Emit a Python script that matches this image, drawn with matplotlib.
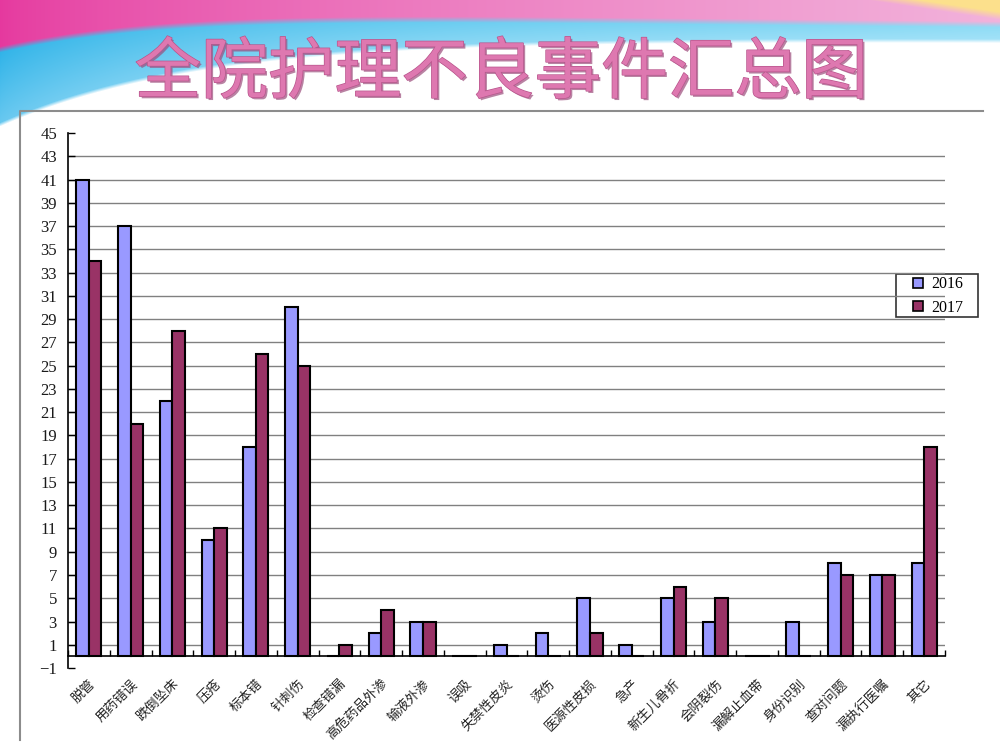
import numpy as np
import matplotlib
matplotlib.use('Agg')
from matplotlib import pyplot as plt
from matplotlib import patheffects as pe
from matplotlib.patches import Rectangle
from matplotlib.ticker import FixedLocator


categories = ['脱管', '用药错误', '跌倒坠床', '压疮', '标本错', '针刺伤', '检查错漏',
              '高危药品外渗', '输液外渗', '误吸', '失禁性皮炎', '烫伤', '医源性皮损',
              '急产', '新生儿骨折', '会阴裂伤', '漏解止血带', '身份识别', '查对问题',
              '漏执行医嘱', '其它']
values_2016 = [41, 37, 22, 10, 18, 30, 0, 2, 3, 0, 1, 2, 5, 1, 5, 3, 0, 3, 8, 7, 8]
values_2017 = [34, 20, 28, 11, 26, 25, 1, 4, 3, 0, 0, 0, 2, 0, 6, 5, 0, 0, 7, 7, 18]
series_labels = ['2016', '2017']
y_ticks = list(range(-1, 46, 2))
title = '全院护理不良事件汇总图'

cjk = ['Noto Sans CJK SC', 'DejaVu Sans']
serif = ['Liberation Serif', 'DejaVu Serif']


def slide_background(w=1000, h=750):
    # rough version of the slide's pink / cyan swoosh at the top
    X, Y = np.meshgrid(np.arange(w), np.arange(h))
    u = X / w
    bound = 36 + 6 * u + 90 * np.exp(-X / 200.0)
    thick = 17 + 60 * np.exp(-X / 280.0)

    magenta = np.array([0.90, 0.22, 0.62])
    lpink = np.array([0.95, 0.70, 0.86])
    deep_cyan = np.array([0.18, 0.70, 0.91])
    light_cyan = np.array([0.55, 0.86, 0.96])
    yellow = np.array([0.99, 0.88, 0.55])

    uu = u[..., None]
    pink = magenta * (1 - uu ** 0.7) + lpink * uu ** 0.7
    cyan = deep_cyan * (1 - uu ** 0.6) + light_cyan * uu ** 0.6
    # cyan gets lighter towards the white edge
    v = np.clip((Y - (bound - thick)) / thick, 0, 1)[..., None]
    cyan = cyan * (1 - 0.35 * v) + np.array([0.85, 0.95, 1.0]) * 0.35 * v

    c = np.clip((bound - thick - Y) / 6.0 + 0.5, 0, 1)[..., None]
    col = cyan * (1 - c) + pink * c

    # yellow streak in the top right corner
    wy = np.clip(((X - 870) * 0.15 - Y) / 8.0, 0, 1)[..., None]
    col = col * (1 - wy) + yellow * wy

    a = np.clip((bound - Y) / 4.0, 0, 1)[..., None]
    img = np.ones((h, w, 3)) * (1 - a) + col * a
    return img


fig = plt.figure(figsize=(10, 7.5), dpi=100)

bg = fig.add_axes([0, 0, 1, 1], zorder=-10)
bg.imshow(slide_background(), extent=(0, 1000, 750, 0), aspect='auto')
bg.plot([20, 20, 983], [740, 111, 111], color='#8c8c8c', lw=1.5)
# legend frame
bg.add_patch(Rectangle((896, 274), 82, 43, facecolor='white', edgecolor='#333333', lw=1.2, zorder=5))
bg.set_xlim(0, 1000)
bg.set_ylim(750, 0)
bg.axis('off')

bg.text(501, 74, title, ha='center', va='center', fontsize=48,
        family=cjk, color='#de78b0',
        path_effects=[pe.SimplePatchShadow(offset=(1.5, -1.5), shadow_rgbFace='#9c4d7c', alpha=0.7),
                      pe.Stroke(linewidth=1.0, foreground='#b8558c'),
                      pe.Normal()])

ax = fig.add_axes([0.068, 0.1093, 0.877, 0.7133])
ax.patch.set_visible(False)

x = np.arange(len(categories))
w = 0.3
ax.bar(x - w / 2, values_2016, w, color='#9999ff', edgecolor='black', linewidth=1.5,
       label=series_labels[0], zorder=3)
ax.bar(x + w / 2, values_2017, w, color='#993366', edgecolor='black', linewidth=1.5,
       label=series_labels[1], zorder=3)

ax.set_xlim(-0.5, len(categories) - 0.5)
ax.set_ylim(-1, 45)

ax.yaxis.set_major_locator(FixedLocator(y_ticks))
ax.set_yticklabels([str(v).replace('-', '\u2212') for v in y_ticks], family=serif,
                   fontsize=12, color='#1a1a1a')
ax.tick_params(axis='y', direction='in', length=5, width=1, pad=8)
ax.yaxis.grid(True, color='#808080', linewidth=1, zorder=0)
gl = ax.get_ygridlines()
gl[0].set_visible(False)
gl[-1].set_visible(False)

ax.spines['bottom'].set_position(('data', 0))
ax.spines['bottom'].set_linewidth(1.2)
ax.spines['left'].set_linewidth(1.2)
ax.spines['top'].set_visible(False)
ax.spines['right'].set_visible(False)

ax.set_xticks(x)
ax.set_xticks(np.arange(len(categories) + 1) - 0.5, minor=True)
ax.set_xticklabels(categories, rotation=45, ha='right', va='top', rotation_mode='anchor',
                   family=cjk, fontsize=9.5, color='#222222')
ax.tick_params(axis='x', which='major', length=0, pad=15)
ax.tick_params(axis='x', which='minor', direction='in', length=4, width=1)

leg = fig.legend(loc='center', bbox_to_anchor=(0.938, 1 - 296 / 750), prop={'family': serif, 'size': 11.5},
                 handlelength=0.6, handleheight=0.6, handletextpad=0.5, borderpad=0.2,
                 labelspacing=0.45, frameon=False)
for h in leg.legend_handles:
    h.set_linewidth(1.2)

fig.savefig('out.png', dpi=100)
